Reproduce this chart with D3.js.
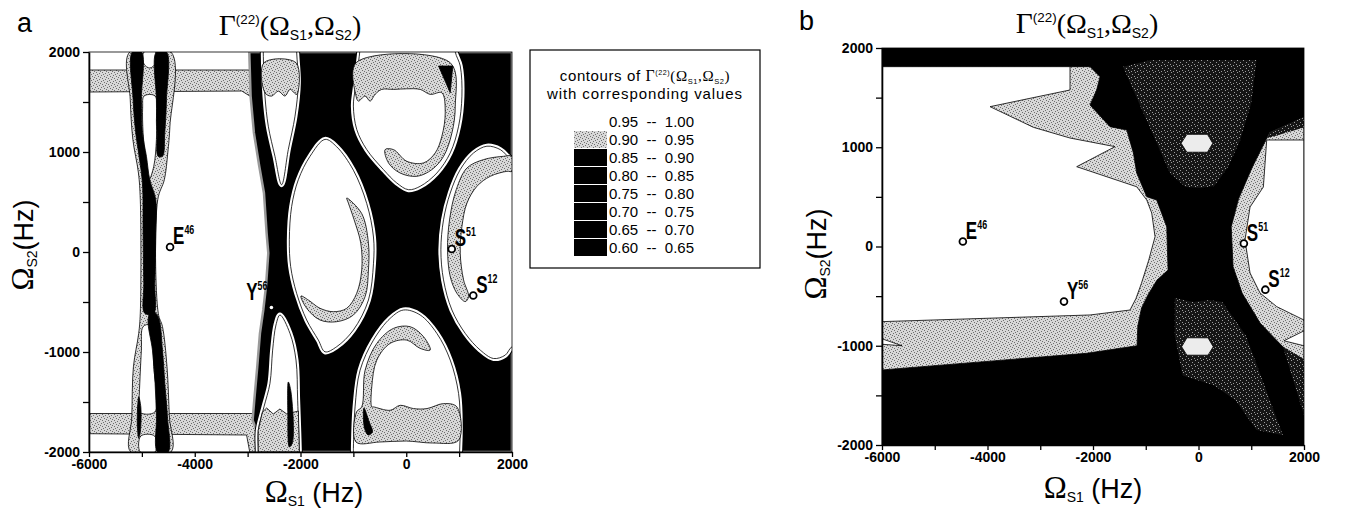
<!DOCTYPE html>
<html>
<head>
<meta charset="utf-8">
<script src="https://cdn.jsdelivr.net/npm/d3@7"></script>
<style>
body { margin: 0; background: #fff; }
svg { display: block; }
</style>
</head>
<body>
<svg id="chart" width="1354" height="511"></svg>
<script>
// ---- data (Hz) ----
const xTicks = [-6000, -5000, -4000, -3000, -2000, -1000, 0, 1000, 2000]
const yTicks = [-2000, -1500, -1000, -500, 0, 500, 1000, 1500, 2000]

const markNames = ['E', 'Y', 'S', 'S']
const markSups = ['46', '56', '51', '12']
const markX = [-4467, -2550, 860, 1267]
const markY = [50, -555, 30, -435]

const legendRanges = ['0.95  --  1.00', '0.90  --  0.95', '0.85  --  0.90', '0.80  --  0.85',
  '0.75  --  0.80', '0.70  --  0.75', '0.65  --  0.70', '0.60  --  0.65']

// panel a
const aBandTop = [[-6000,1820],[-2900,1820],[-2900,1600],[-2960,1560],[-3110,1610],[-6000,1600]]
const aBandBot = [[-6000,-1615],[-2800,-1615],[-2800,-2000],[-2960,-2000],[-3020,-1830],[-6000,-1817]]
const aHalo = [[-5230,2000],[-5220,1525],[-5170,1124],[-5065,790],[-5030,523],[-5030,-613],[-5060,-814],[-5160,-1148],[-5190,-1649],[-5210,-2000],[-4450,-2000],[-4480,-1649],[-4525,-1148],[-4610,-747],[-4690,-613],[-4700,523],[-4575,723],[-4510,991],[-4470,1258],[-4450,2000]]
const aGapUpper = [[-4960,1560],[-4750,1560],[-4725,1300],[-4725,1124],[-4775,857],[-4865,723],[-4935,957],[-4977,1191],[-4985,1450]]
const aGapTop = [[-4960,2000],[-4740,2000],[-4730,1893],[-4850,1840],[-4960,1880]]
const aGapLower = [[-4977,-747],[-4851,-730],[-4775,-1148],[-4755,-1600],[-5060,-1600],[-5053,-1482],[-5009,-981]]
const aGapBot = [[-5020,-1840],[-4760,-1840],[-4750,-2000],[-5030,-2000]]
const aRibLeft = [[-5179,2000],[-5166,1525],[-5116,1191],[-5053,957],[-4990,690],[-4977,189],[-4964,-313],[-4946,-613],[-4775,-613],[-4756,-313],[-4737,189],[-4737,523],[-4851,723],[-4914,957],[-4990,1191],[-5009,1525],[-5009,2000]]
const aRibRight = [[-4725,2000],[-4535,2000],[-4535,1525],[-4567,1191],[-4610,957],[-4693,957],[-4712,1191],[-4725,1525]]
const aRibLow = [[-4820,-580],[-4693,-647],[-4611,-981],[-4567,-1315],[-4516,-1649],[-4504,-2000],[-4705,-2000],[-4724,-1649],[-4750,-1315],[-4800,-981],[-4882,-680]]
const aRibDrop = [[-5060,-1450],[-5020,-1550],[-5030,-1800],[-5060,-1860],[-5085,-1750],[-5080,-1550]]
const aCore = [[-2969,2000],[2000,2000],[2000,-2000],[-2800,-2000],[-2830,-1783],[-2906,-1683],[-2874,-1482],[-2818,-1148],[-2767,-814],[-2704,-580],[-2653,-346],[-2609,-12],[-2641,189],[-2691,590],[-2780,857],[-2881,1191],[-2944,1559]]
const aVTop = [[-2704,2000],[-2700,2200],[-2080,2200],[-2073,2000],[-2041,1693],[-2104,1358],[-2231,1024],[-2357,673],[-2483,957],[-2609,1258],[-2672,1559]]
const aVTopGray = [[-2691,1893],[-2085,1893],[-2073,1576],[-2199,1626],[-2294,1559],[-2420,1609],[-2546,1559],[-2672,1592]]
const aVBot = [[-2388,-630],[-2199,-814],[-2085,-1081],[-2054,-1482],[-2022,-2000],[-2020,-2200],[-2800,-2200],[-2799,-2000],[-2799,-1783],[-2691,-1549],[-2578,-1315],[-2527,-981],[-2464,-730]]
const aVBotGray = [[-2720,-1600],[-2640,-1560],[-2515,-1620],[-2390,-1570],[-2260,-1620],[-2040,-1590],[-2022,-2000],[-2799,-2000],[-2799,-1783]]
const aVBotDrop = [[-2230,-1300],[-2180,-1400],[-2150,-1900],[-2210,-1950],[-2240,-1600]]
const aE1 = [[-1536,1126],[-1315,1052],[-1000,818],[-747,484],[-620,150],[-620,-118],[-715,-480],[-1000,-780],[-1315,-947],[-1536,-998],[-1662,-881],[-1883,-680],[-2073,-413],[-2186,-146],[-2211,122],[-2167,456],[-2041,723],[-1820,957]]
const aE1Gray = [[-1126,540],[-842,384],[-715,88],[-715,-179],[-778,-446],[-1000,-630],[-1315,-697],[-1631,-680],[-1883,-563],[-1991,-440],[-1852,-480],[-1631,-563],[-1378,-597],[-1126,-563],[-937,-413],[-842,-179],[-860,88],[-986,322],[-1094,489]]
const aE2 = [[-880,2000],[-968,1626],[-1000,1459],[-936,1225],[-747,1024],[-431,824],[-179,690],[42,623],[264,657],[579,790],[832,991],[990,1258],[1053,1559],[1021,1860],[927,2000],[900,2200],[-850,2200]]
const aE2Gray = [[-949,1893],[832,1893],[927,1459],[864,1191],[706,957],[485,824],[201,757],[-116,790],[-336,891],[-399,1024],[-242,1024],[11,907],[327,891],[548,991],[674,1158],[737,1392],[674,1592],[453,1576],[264,1626],[11,1632],[-242,1626],[-463,1626],[-589,1576],[-684,1509],[-778,1559],[-905,1509],[-949,1559]]
const aE2Tri = [[611,1860],[880,1860],[832,1592]]
const aE3 = [[2000,924],[1779,1024],[1526,1058],[1274,991],[1021,824],[832,590],[705,322],[655,22],[705,-279],[864,-580],[1116,-814],[1400,-981],[1652,-1065],[1873,-1031],[2000,-948],[2200,-948],[2200,924]]
const aE3Gray = [[1842,957],[1463,924],[1148,840],[945,623],[819,322],[781,22],[832,-246],[958,-413],[1116,-496],[1179,-446],[1084,-279],[1021,-12],[1053,255],[1148,489],[1337,657],[1589,757],[1905,807],[2000,807],[2000,957]]
const aE4 = [[-999,-2000],[-999,-1950],[-968,-1549],[-873,-1182],[-620,-881],[-305,-664],[-52,-580],[264,-630],[579,-814],[832,-1081],[990,-1416],[1021,-1750],[1009,-2000],[1000,-2200],[-1000,-2200]]
const aE4Gray = [[-950,-1900],[-940,-1599],[-842,-1549],[-778,-1182],[-557,-914],[-242,-764],[74,-747],[327,-847],[453,-981],[264,-964],[11,-881],[-305,-914],[-557,-1081],[-652,-1349],[-652,-1549],[-620,-1549],[-305,-1583],[-115,-1533],[137,-1566],[390,-1566],[706,-1516],[958,-1549],[990,-1883],[500,-1910],[0,-1890],[-500,-1900]]
const aE4Drop = [[-800,-1560],[-700,-1700],[-640,-1800],[-720,-1830],[-790,-1760]]

// panel b
const bDarkTop = [[-1431,1812],[-900,1880],[1100,1880],[1000,1446],[790,1070],[560,800],[300,610],[30,590],[-250,600],[-540,740],[-815,1070],[-1094,1406]]
const bDarkLow = [[-450,-520],[-100,-560],[200,-540],[450,-560],[900,-900],[1600,-1900],[1100,-1850],[700,-1550],[300,-1400],[-300,-1300],[-450,-900]]
const bHexTop = [[-330,1040],[-220,1130],[170,1130],[270,1040],[170,950],[-220,950]]
const bHexLow = [[-320,-1010],[-220,-920],[180,-920],[280,-1010],[180,-1095],[-220,-1095]]
const bGrayLeft = [[-6000,1812],[-2056,1812],[-1867,1711],[-1930,1577],[-2056,1426],[-1677,1207],[-1360,1174],[-1234,942],[-1171,740],[-981,502],[-792,468],[-602,200],[-577,-237],[-786,-338],[-950,-480],[-1080,-620],[-1150,-800],[-1165,-1000],[-2119,-1076],[-6000,-1244]]
const bWhiteLeft = [[-6000,1812],[-2436,1812],[-2436,1577],[-3952,1409],[-3131,1201],[-2436,1093],[-1583,1006],[-2309,804],[-1171,602],[-981,468],[-887,337],[-824,99],[-944,-138],[-1083,-373],[-1186,-524],[-1298,-640],[-2056,-690],[-6000,-757]]
const bWedgeLeft = [[-6000,-930],[-5620,-1000],[-6000,-985]]
const bGrayRight = [[2000,1305],[1350,1150],[1020,800],[760,480],[620,200],[655,-203],[826,-469],[1167,-771],[1603,-1013],[2000,-1140]]
const bDarkRightUp = [[2000,1305],[1350,1150],[1300,1090],[2000,1200]]
const bDarkRightLow = [[1603,-1013],[2000,-1140],[2000,-1700]]
const bWhiteRight = [[2000,1073],[1293,1073],[1230,600],[977,398],[882,65],[977,-267],[1167,-469],[1484,-606],[2000,-741]]
const bWedgeRight = [[2000,-850],[1620,-950],[2000,-1000]]

// ---- drawing ----
const svg = d3.select('#chart')
const defs = svg.append('defs')
const SANS = 'Liberation Sans, Arial, sans-serif'
const SERIF = 'Liberation Serif, Times New Roman, serif'
const NARROW = 'Liberation Sans Narrow, Liberation Sans, Arial, sans-serif'

function stipple(id, bg, fg, size, dots){
  const p = defs.append('pattern').attr('id', id)
    .attr('width', size).attr('height', size).attr('patternUnits', 'userSpaceOnUse')
  p.append('rect').attr('width', size).attr('height', size).attr('fill', bg)
  dots.forEach(d => p.append('rect').attr('x', d[0]).attr('y', d[1])
    .attr('width', 1).attr('height', 1).attr('fill', fg))
}
stipple('light', '#d8d8d8', '#6e6e6e', 6, [[0,0],[3,1],[1,2],[5,3],[2,4],[4,5]])
stipple('dark', '#151515', '#9a9a9a', 6, [[1,0],[4,2],[0,4],[3,5]])

const GRAY = 'url(#light)', DARK = 'url(#dark)'

function gammaTitle(cx, base, s, prefix){
  const t = svg.append('text').attr('x', cx).attr('y', base).attr('text-anchor', 'middle')
  if(prefix) t.append('tspan').attr('font-family', SANS).attr('font-size', s).text(prefix)
  t.append('tspan').attr('font-family', SERIF).attr('font-size', s * 1.05).text('Γ')
  t.append('tspan').attr('font-family', SANS).attr('font-size', s * 0.48).attr('dy', -s * 0.4).text('(22)')
  t.append('tspan').attr('font-family', SERIF).attr('font-size', s).attr('dy', s * 0.4).text('(Ω')
  t.append('tspan').attr('font-family', SANS).attr('font-size', s * 0.5).attr('dy', s * 0.18).text('S1')
  t.append('tspan').attr('font-family', SERIF).attr('font-size', s).attr('dy', -s * 0.18).text(',Ω')
  t.append('tspan').attr('font-family', SANS).attr('font-size', s * 0.5).attr('dy', s * 0.18).text('S2')
  t.append('tspan').attr('font-family', SERIF).attr('font-size', s).attr('dy', -s * 0.18).text(')')
  return t
}

function axisTitle(tx, ty, rot, sub){
  const t = svg.append('text').attr('text-anchor', 'middle')
    .attr('transform', `translate(${tx},${ty}) rotate(${rot})`)
  t.append('tspan').attr('font-family', SERIF).attr('font-size', 31).text('Ω')
  t.append('tspan').attr('font-family', SANS).attr('font-size', 14).attr('dy', 4).text(sub)
  t.append('tspan').attr('font-family', SANS).attr('font-size', 27).attr('dy', -4)
    .text(rot ? '(Hz)' : ' (Hz)')
}

function drawPanel(o){
  const x = d3.scaleLinear().domain([-6000, 2000]).range([o.x0, o.x1])
  const y = d3.scaleLinear().domain([-2000, 2000]).range([o.y1, o.y0])
  const smooth = d3.line().x(d => x(d[0])).y(d => y(d[1])).curve(d3.curveCatmullRomClosed.alpha(0.5))
  const sharp = d3.line().x(d => x(d[0])).y(d => y(d[1])).curve(d3.curveLinearClosed)

  defs.append('clipPath').attr('id', 'clip' + o.name).append('rect')
    .attr('x', o.x0).attr('y', o.y0).attr('width', o.x1 - o.x0).attr('height', o.y1 - o.y0)
  const body = svg.append('g').attr('clip-path', `url(#clip${o.name})`)
  body.append('rect').attr('x', o.x0).attr('y', o.y0)
    .attr('width', o.x1 - o.x0).attr('height', o.y1 - o.y0).attr('fill', o.bg)

  o.layers.forEach(L => {
    const d = (L.smooth ? smooth : sharp)(L.pts)
    if(L.ring){
      body.append('path').attr('d', d).attr('fill', 'none').attr('stroke', '#000').attr('stroke-width', 7)
      body.append('path').attr('d', d).attr('fill', '#fff').attr('stroke', '#fff').attr('stroke-width', 5)
    }
    body.append('path').attr('d', d).attr('fill', L.fill)
      .attr('stroke', L.stroke || '#000').attr('stroke-width', L.sw != null ? L.sw : 0.8)
      .attr('stroke-linejoin', 'round')
  })

  // markers
  markNames.forEach((n, i) => {
    const px = x(markX[i]), py = y(markY[i])
    const dot = o.dots && o.dots.includes(i)
    body.append('circle').attr('cx', px).attr('cy', py)
      .attr('r', dot ? 1.8 : 3.4).attr('fill', '#fff')
      .attr('stroke', dot ? 'none' : '#000').attr('stroke-width', 1.8)
    const left = o.leftLabels && o.leftLabels.includes(i)
    const t = svg.append('text').attr('font-family', NARROW).attr('font-size', 23)
      .attr('font-weight', 'bold')
      .attr('text-anchor', left ? 'end' : 'start')
      .attr('transform', `translate(${left ? px - 4 : px + 3},${py + (left ? -8 : -3)}) scale(0.74,1)`)
    t.append('tspan').text(n)
    t.append('tspan').attr('font-size', 12).attr('dy', -10).text(markSups[i])
  })

  // frame and axes
  svg.append('rect').attr('x', o.x0).attr('y', o.y0).attr('width', o.x1 - o.x0)
    .attr('height', o.y1 - o.y0).attr('fill', 'none').attr('stroke', '#000').attr('stroke-width', 0.8)

  const gx = svg.append('g').attr('transform', `translate(0,${o.y1})`)
    .call(d3.axisBottom(x).tickValues(xTicks).tickSize(5).tickPadding(2).tickSizeOuter(0)
      .tickFormat(d => d % 2000 === 0 ? String(d) : ''))
  const gy = svg.append('g').attr('transform', `translate(${o.x0},0)`)
    .call(d3.axisLeft(y).tickValues(yTicks).tickSize(6).tickPadding(3).tickSizeOuter(0)
      .tickFormat(d => d % 1000 === 0 ? String(d) : ''))
  ;[gx, gy].forEach(g => {
    g.select('.domain').attr('stroke-width', 1.6)
    g.selectAll('.tick line').attr('stroke-width', 1.3)
    g.selectAll('text').attr('font-family', SANS).attr('font-size', 14)
      .attr('font-weight', 'bold').attr('fill', '#000')
  })
}

drawPanel({
  name: 'a', x0: 89, x1: 512, y0: 52, y1: 452, bg: '#fff',
  dots: [1], leftLabels: [1],
  layers: [
    { pts: aBandTop, fill: GRAY },
    { pts: aBandBot, fill: GRAY },
    { pts: aHalo, fill: GRAY, smooth: true },
    { pts: aGapUpper, fill: '#fff', smooth: true },
    { pts: aGapTop, fill: '#fff', smooth: true },
    { pts: aGapLower, fill: '#fff', smooth: true },
    { pts: aGapBot, fill: '#fff', smooth: true },
    { pts: aRibLeft, fill: '#000', smooth: true },
    { pts: aRibRight, fill: '#000', smooth: true },
    { pts: aRibLow, fill: '#000', smooth: true },
    { pts: aRibDrop, fill: '#000', smooth: true },
    { pts: aCore, fill: '#000', stroke: '#9a9a9a', sw: 2.5 },
    { pts: aVTop, fill: '#fff', smooth: true, ring: true },
    { pts: aVBot, fill: '#fff', smooth: true, ring: true },
    { pts: aE1, fill: '#fff', smooth: true, ring: true },
    { pts: aE2, fill: '#fff', smooth: true, ring: true },
    { pts: aE3, fill: '#fff', smooth: true, ring: true },
    { pts: aE4, fill: '#fff', smooth: true, ring: true },
    { pts: aVTopGray, fill: GRAY, smooth: true },
    { pts: aVBotGray, fill: GRAY },
    { pts: aE1Gray, fill: GRAY, smooth: true },
    { pts: aE2Gray, fill: GRAY, smooth: true },
    { pts: aE3Gray, fill: GRAY, smooth: true },
    { pts: aE4Gray, fill: GRAY, smooth: true },
    { pts: aVBotDrop, fill: '#000', smooth: true },
    { pts: aE2Tri, fill: '#000' },
    { pts: aE4Drop, fill: '#000', smooth: true }
  ]
})

drawPanel({
  name: 'b', x0: 882, x1: 1304, y0: 48, y1: 445, bg: '#000',
  layers: [
    { pts: bDarkTop, fill: DARK, stroke: 'none' },
    { pts: bDarkLow, fill: DARK, stroke: 'none' },
    { pts: bHexTop, fill: '#ececec' },
    { pts: bHexLow, fill: '#ececec' },
    { pts: bGrayLeft, fill: GRAY },
    { pts: bGrayRight, fill: GRAY },
    { pts: bDarkRightUp, fill: DARK, stroke: 'none' },
    { pts: bDarkRightLow, fill: DARK, stroke: 'none' },
    { pts: bWhiteLeft, fill: '#fff' },
    { pts: bWhiteRight, fill: '#fff' },
    { pts: bWedgeLeft, fill: '#fff' },
    { pts: bWedgeRight, fill: '#fff' }
  ]
})

// titles and labels
svg.append('text').attr('x', 17).attr('y', 32).attr('font-family', SANS).attr('font-size', 27).text('a')
svg.append('text').attr('x', 799).attr('y', 30).attr('font-family', SANS).attr('font-size', 27).text('b')
gammaTitle(290, 35, 28)
gammaTitle(1087, 33, 28)
axisTitle(33, 245, -90, 'S2')
axisTitle(314, 502, 0, 'S1')
axisTitle(826, 254, -90, 'S2')
axisTitle(1093, 498, 0, 'S1')

// legend
svg.append('rect').attr('x', 530).attr('y', 50).attr('width', 230).attr('height', 218)
  .attr('fill', '#fff').attr('stroke', '#000').attr('stroke-width', 1.2)
gammaTitle(645, 81, 15, 'contours of ').attr('letter-spacing', 0.6)
svg.append('text').attr('x', 645).attr('y', 99).attr('text-anchor', 'middle')
  .attr('font-family', SANS).attr('font-size', 15).attr('letter-spacing', 0.9)
  .text('with corresponding values')
legendRanges.forEach((r, i) => {
  const base = 127 + i * 18
  if(i > 0){
    svg.append('rect').attr('x', 574).attr('y', base - 14).attr('width', 33).attr('height', 17)
      .attr('fill', i === 1 ? GRAY : '#000')
  }
  svg.append('text').attr('x', 609).attr('y', base).attr('font-family', SANS)
    .attr('font-size', 15).style('white-space', 'pre').text(r)
})
</script>
</body>
</html>
